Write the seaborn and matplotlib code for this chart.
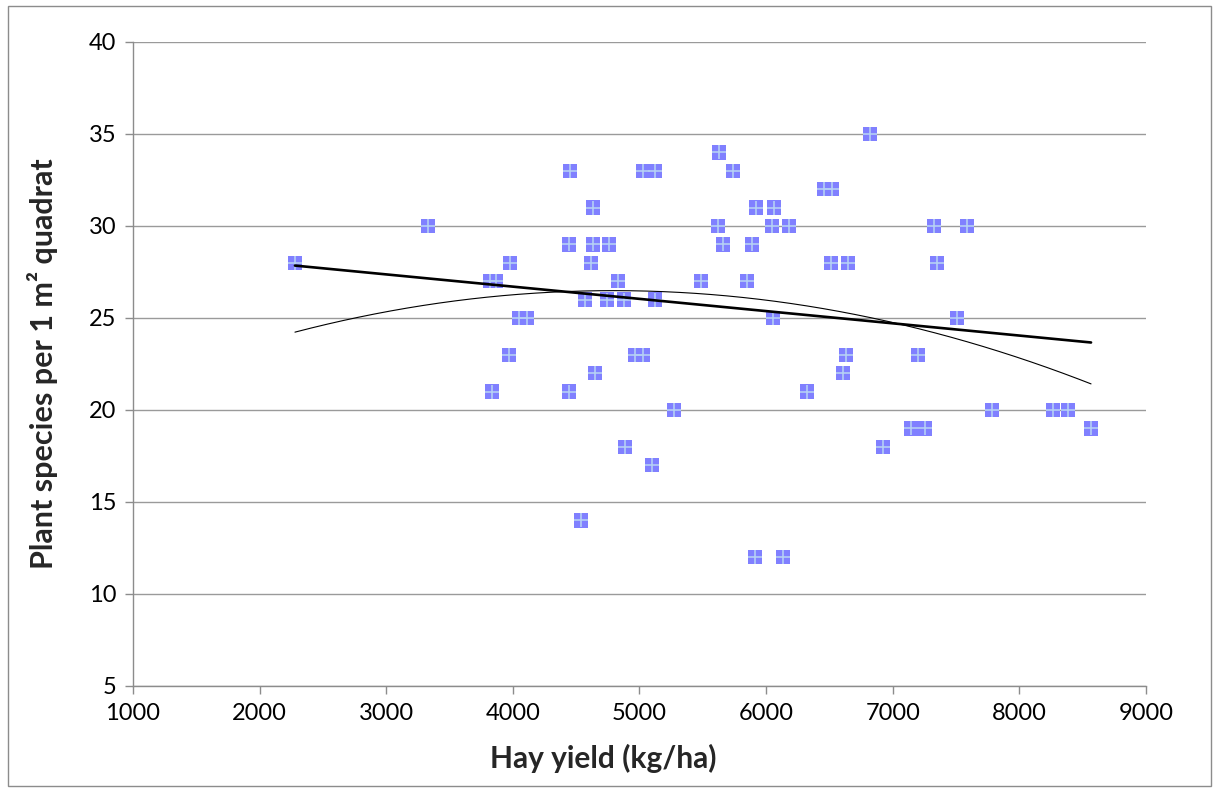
import numpy as np
import pandas as pd
import matplotlib
matplotlib.use("Agg")
import matplotlib.pyplot as plt
from matplotlib.patches import Rectangle
import seaborn as sns

# Data
hay_yield = [2279, 3330, 3820, 3867, 3835, 3977, 3970, 4048, 4111, 4451,
             4443, 4443, 4633, 4633, 4759, 4617, 4830, 4570, 4743, 4877,
             4649, 4538, 4885, 5028, 5123, 5122, 4965, 5028, 5099, 5272,
             5486, 5628, 5738, 5620, 5659, 5849, 5888, 5920, 6062, 6046,
             6054, 5912, 6133, 6181, 6323, 6457, 6520, 6512, 6647, 6631,
             6607, 6820, 6923, 7144, 7255, 7199, 7326, 7350, 7507, 7586,
             7784, 8265, 8384, 8566]
species = [28, 30, 27, 27, 21, 28, 23, 25, 25, 33,
           29, 21, 31, 29, 29, 28, 27, 26, 26, 26,
           22, 14, 18, 33, 33, 26, 23, 23, 17, 20,
           27, 34, 33, 30, 29, 27, 29, 31, 31, 30,
           25, 12, 12, 30, 21, 32, 32, 28, 28, 23,
           22, 35, 18, 19, 19, 23, 30, 28, 25, 30,
           20, 20, 20, 19]

x_ticks = [1000, 2000, 3000, 4000, 5000, 6000, 7000, 8000, 9000]
y_ticks = [5, 10, 15, 20, 25, 30, 35, 40]

df = pd.DataFrame({"Hay yield (kg/ha)": hay_yield, "species": species})

sns.set_theme(style="white")
plt.rcParams['font.family'] = ['Lato', 'DejaVu Sans']

fig = plt.figure(figsize=(12.19, 7.92), dpi=100)
ax = fig.add_axes([133 / 1219, 1 - 686 / 792, (1146 - 133) / 1219, (686 - 42) / 792])

# markers: square with light cross
sns.scatterplot(data=df, x="Hay yield (kg/ha)", y="species", ax=ax, marker="s",
                s=110, color="#8080FF", edgecolor="none", linewidth=0, zorder=3)
sns.scatterplot(data=df, x="Hay yield (kg/ha)", y="species", ax=ax, marker="+",
                s=110, color="#B4CFF5", linewidth=1.2, zorder=4)

# trend lines
xs = np.linspace(min(hay_yield), max(hay_yield), 200)
lin = np.polyfit(hay_yield, species, 1)
quad = np.polyfit(hay_yield, species, 2)
ax.plot(xs, np.polyval(lin, xs), color="black", lw=1.9, zorder=5)
ax.plot(xs, np.polyval(quad, xs), color="black", lw=0.8, zorder=5)

ax.set_xlim(1000, 9000)
ax.set_ylim(5, 40)
ax.set_xticks(x_ticks)
ax.set_yticks(y_ticks)
ax.set_xticklabels([str(v) for v in x_ticks], fontsize=17)
ax.set_yticklabels([str(v) for v in y_ticks], fontsize=17)

ax.yaxis.grid(True, color="#9a9a9a", lw=1.0)
ax.xaxis.grid(False)
ax.set_axisbelow(True)

for s in ["top", "right"]:
    ax.spines[s].set_visible(False)
for s in ["left", "bottom"]:
    ax.spines[s].set_color("#8c8c8c")
    ax.spines[s].set_linewidth(1.0)

ax.tick_params(axis="both", which="both", direction="out", length=6, width=1.0,
               color="#8c8c8c", labelcolor="black", pad=6)
ax.tick_params(axis="x", bottom=True)
ax.tick_params(axis="y", left=True)

ax.set_xlabel("Hay yield (kg/ha)", fontsize=21.5, fontweight="bold")
ax.xaxis.set_label_coords((603 - 133) / 1013, -0.09)
ax.set_ylabel("Plant species per 1 m² quadrat", fontsize=22, fontweight="bold")
ax.yaxis.set_label_coords(-0.074, 0.5)

# outer chart border
fig.patches.append(Rectangle((8 / 1219, 6 / 792), 1 - 16 / 1219, 1 - 12 / 792,
                             transform=fig.transFigure, fill=False,
                             edgecolor="#8c8c8c", lw=1.0))

fig.savefig("out.png", dpi=100)
